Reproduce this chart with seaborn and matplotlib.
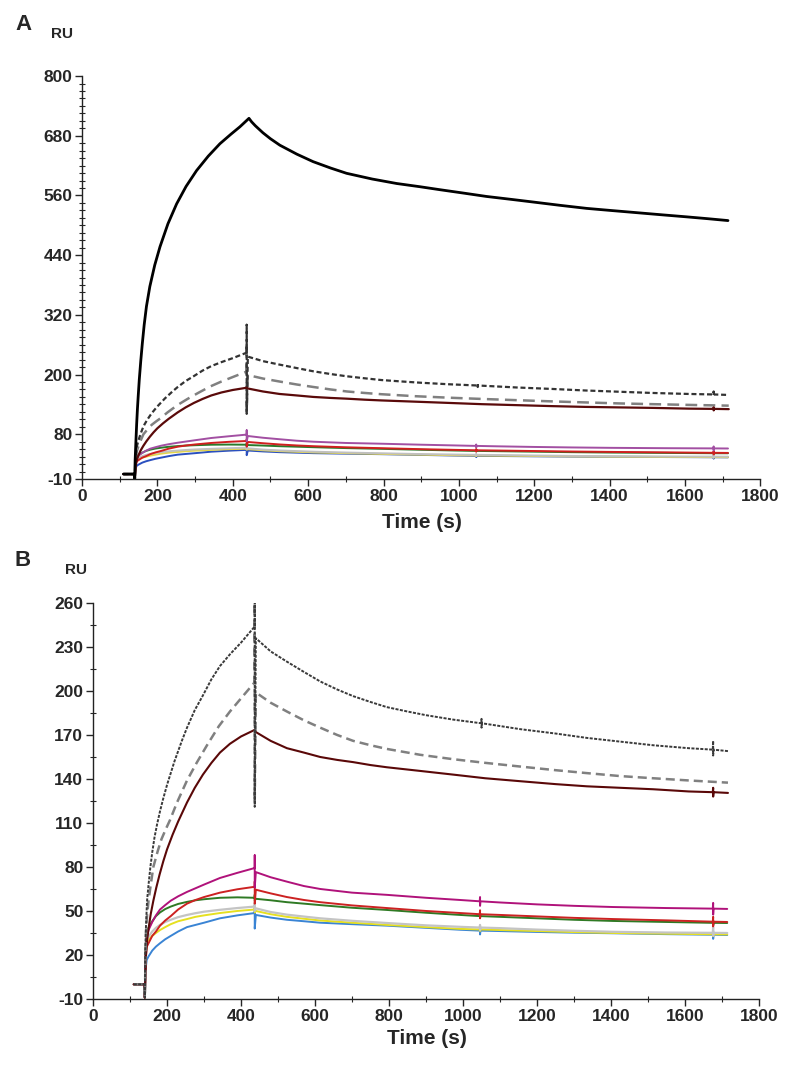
import matplotlib
matplotlib.use("Agg")
import matplotlib.pyplot as plt
from matplotlib.ticker import FixedLocator, MultipleLocator
import seaborn as sns

# sensorgram traces (time in s, response in RU)
t_blk = [110, 139, 140, 141, 143, 145, 147, 149, 152, 156,
         160, 165, 171, 180, 193, 207, 228, 251, 276, 304,
         335, 366, 395, 419, 443, 450, 460, 480, 500, 525,
         570, 613, 660, 702, 770, 835, 897, 950, 1010, 1073,
         1140, 1200, 1270, 1339, 1400, 1470, 1540, 1604, 1660, 1714]
ru_blk = [0, 0, -9, 28, 65, 100, 130, 155, 190, 228,
          262, 300, 337, 377, 420, 457, 503, 543, 578, 610,
          639, 664, 683, 698, 715, 708, 700, 686, 674, 661,
          643, 628, 615, 604.5, 593, 584, 577.5, 571.5, 565, 558,
          552, 546.5, 540, 534, 530, 525.5, 521, 517, 513.3, 509.5]

t_dot = [110, 139, 140, 141, 143, 146, 150, 155, 160, 166,
         173, 181, 189, 200, 220, 240, 254, 275, 297, 320,
         343, 370, 400, 437, 437, 437, 440, 480, 524, 570,
         614, 660, 703, 750, 794, 850, 900, 973, 1049, 1050,
         1050, 1051, 1154, 1250, 1335, 1424, 1514, 1610, 1675, 1676,
         1676, 1677, 1716]
ru_dot = [0, 0, -9, 20, 39, 57, 68, 80, 90, 100,
          109, 118, 126, 136, 152, 166, 175, 187, 197, 208,
          217, 225, 233, 244, 300, 121, 236, 227, 220, 213,
          206.5, 201, 196.5, 192.5, 189, 186, 183.5, 180.5, 178, 181,
          175, 178, 174, 171, 168, 165.5, 163, 161, 160, 166,
          156, 160, 159]

t_dash = [110, 139, 140, 143, 146, 150, 156, 163, 175, 185,
          197, 208, 227, 254, 280, 308, 340, 370, 400, 437,
          437, 437, 440, 480, 524, 570, 614, 660, 703, 750,
          794, 884, 973, 1060, 1154, 1250, 1335, 1424, 1514, 1610,
          1716]
ru_dash = [0, 0, -9, 35, 47, 57, 68, 80, 91, 99,
           106, 112, 124, 139, 151, 163, 176, 186, 195, 206,
           265, 125, 199, 192, 186, 180, 175, 170, 166, 163,
           160.5, 156.5, 153.5, 151, 148.5, 146, 144, 142, 140.5, 139,
           137.5]

t_mar = [110, 139, 140, 143, 146, 150, 156, 163, 171, 180,
         190, 200, 215, 230, 254, 275, 297, 320, 343, 370,
         400, 437, 440, 480, 524, 570, 614, 660, 703, 750,
         794, 884, 973, 1060, 1154, 1250, 1335, 1424, 1514, 1610,
         1675, 1676, 1676, 1677, 1716]
ru_mar = [0, 0, -9, 20, 30, 38, 48, 57, 66, 75,
          84, 92, 102, 111, 124, 134, 143, 151, 158, 164,
          169, 173.5, 172, 166, 161, 158, 155, 153, 151.5, 149.5,
          148, 145.5, 143, 140.5, 138.5, 136.5, 135, 134, 133, 131.5,
          131, 134, 128, 131, 130.5]

# the six weak binders share one time grid
t_small = [110, 139, 140, 142, 145, 150, 160, 170, 181, 195,
           210, 230, 254, 277, 300, 343, 390, 437, 437, 437,
           440, 480, 524, 570, 614, 700, 794, 900, 992, 1045,
           1046, 1046, 1047, 1100, 1200, 1300, 1405, 1550, 1675, 1676,
           1676, 1677, 1714]
ru_mag = [0, 0, -9, 20, 32, 37, 42.5, 47, 51, 54,
          57, 60, 63, 65.5, 68, 72.5, 76, 79.3, 88, 66,
          76.5, 73, 70, 67, 65, 62.5, 61, 59, 57.5, 56.6,
          59.5, 53.5, 56.6, 55.8, 54.5, 53.5, 52.7, 52, 51.6, 55.5,
          47.5, 51.6, 51.4]
ru_red = [0, 0, -9, 15, 25.5, 28, 33, 36, 40, 43.5,
          46.5, 51, 55, 57.5, 59.5, 62.5, 64.8, 66.5, 70, 55,
          64.5, 62, 59.5, 57.5, 56, 53.8, 52, 50, 48.6, 47.8,
          50.5, 45, 47.8, 47.3, 46.3, 45.3, 44.5, 43.6, 42.7, 46,
          39.5, 42.7, 42.5]
ru_grn = [0, 0, -9, 25, 35, 38.5, 43, 46.5, 49, 51.3,
          53, 54.8, 56.2, 57.3, 58, 59, 59.3, 59, 61, 57,
          58.3, 57.3, 56, 55, 54, 52.2, 50.7, 48.8, 47.3, 46.5,
          47.5, 45.5, 46.5, 46, 45, 44, 43.2, 42.5, 41.9, 43.5,
          40.3, 41.9, 41.8]
ru_gry = [0, 0, -9, 22, 30, 32.5, 36, 38.5, 40.5, 42.5,
          44, 45.8, 47.3, 48.5, 49.5, 50.8, 52, 53, 55, 50,
          51.8, 49.3, 47.5, 46.2, 45, 43.3, 41.8, 40.2, 39.2, 38.7,
          40.5, 37, 38.7, 38.3, 37.3, 36.5, 35.8, 35.3, 35.1, 39,
          33, 35.1, 35]
ru_yel = [0, 0, -9, 20, 28, 30.5, 33, 35, 37, 39,
          41, 43, 44.5, 46, 47, 48.6, 50, 51, 53, 49,
          50, 47.8, 46, 44.7, 43.5, 42, 40.5, 39, 37.8, 37.4,
          38.5, 36.3, 37.4, 37, 36.3, 35.6, 35, 34.5, 34.1, 35.5,
          32.8, 34.1, 34]
ru_blu = [0, 0, -9, 10, 16.6, 19, 23, 25.7, 28, 30.7,
          33, 36, 39, 40.5, 42, 45, 47, 48.6, 52, 38,
          47.3, 45.5, 44, 43, 42, 41, 40, 38.5, 37.2, 36.6,
          39, 34, 36.6, 36.3, 35.7, 35.2, 34.8, 34.2, 33.8, 36.5,
          31, 33.8, 33.6]

yticks_a = [-10, 80, 200, 320, 440, 560, 680, 800]
yticks_b = [-10, 20, 50, 80, 110, 140, 170, 200, 230, 260]
xticks = [0, 200, 400, 600, 800, 1000, 1200, 1400, 1600, 1800]

sns.set_style("ticks")
plt.rcParams['font.family'] = ['Liberation Sans', 'DejaVu Sans']
plt.rcParams['lines.scale_dashes'] = False
plt.rcParams['axes.unicode_minus'] = False

fig = plt.figure(figsize=(8, 10.65), dpi=100)
ax_a = fig.add_axes([0.1025, 0.5502, 0.848, 0.3784])
ax_b = fig.add_axes([0.1163, 0.0620, 0.8325, 0.3718])


def trace(ax, t, ru, color, lw=1.4, ls='-'):
    sns.lineplot(x=t, y=ru, ax=ax, color=color, lw=lw, linestyle=ls,
                 estimator=None, sort=False)


# panel A
trace(ax_a, t_small, ru_blu, '#2a4fbf')
trace(ax_a, t_small, ru_yel, '#e3d54a')
trace(ax_a, t_small, ru_gry, '#c0c0c0')
trace(ax_a, t_small, ru_grn, '#2a7a2a')
trace(ax_a, t_small, ru_red, '#d01f1f')
trace(ax_a, t_small, ru_mag, '#a24fa2')
trace(ax_a, t_dash, ru_dash, '#808080', lw=1.8, ls=(0, (8.5, 4.5)))
trace(ax_a, t_dot, ru_dot, '#333333', lw=1.6, ls=(0, (3.6, 2.0)))
trace(ax_a, t_mar, ru_mar, '#5a0a0a', lw=1.6)
trace(ax_a, t_blk, ru_blk, '#000000', lw=2.0)

# panel B
trace(ax_b, t_small, ru_blu, '#3a84d4')
trace(ax_b, t_small, ru_yel, '#e6e020')
trace(ax_b, t_small, ru_gry, '#c4c4c4', lw=1.6)
trace(ax_b, t_small, ru_grn, '#2f7a24')
trace(ax_b, t_small, ru_red, '#cc2222')
trace(ax_b, t_small, ru_mag, '#b0127a')
trace(ax_b, t_mar, ru_mar, '#5a0808', lw=1.5)
trace(ax_b, t_dash, ru_dash, '#808080', lw=1.8, ls=(0, (6.5, 3.6)))
trace(ax_b, t_dot, ru_dot, '#3a3a3a', lw=1.4, ls=(0, (2.2, 1.0)))

for ax, yt, ymax in [(ax_a, yticks_a, 800), (ax_b, yticks_b, 260)]:
    ax.set_xlim(0, 1800)
    ax.set_ylim(-10, ymax)
    ax.set_xticks(xticks)
    ax.set_yticks(yt)
    ax.xaxis.set_minor_locator(MultipleLocator(100))
    ax.yaxis.set_minor_locator(FixedLocator(list(range(-10, ymax + 1, 15))))
    ax.tick_params(which='major', direction='out', length=5, width=1, labelsize=12.5, pad=2)
    ax.tick_params(which='minor', direction='inout', length=5, width=0.8)
    for lab in ax.get_xticklabels() + ax.get_yticklabels():
        lab.set_fontweight('bold')
    sns.despine(ax=ax)
    for s in ['left', 'bottom']:
        ax.spines[s].set_linewidth(1.0)
        ax.spines[s].set_color('#222222')
    ax.set_xlabel('')
    ax.set_ylabel('')

fig.text(422 / 800, 1 - 522 / 1065, 'Time (s)', ha='center', va='center', fontsize=15, fontweight='bold')
fig.text(427 / 800, 1 - 1038 / 1065, 'Time (s)', ha='center', va='center', fontsize=15, fontweight='bold')
fig.text(15 / 800, 1 - 24 / 1065, 'A', ha='left', va='center', fontsize=16, fontweight='bold')
fig.text(15 / 800, 1 - 561 / 1065, 'B', ha='left', va='center', fontsize=16, fontweight='bold')
fig.text(51 / 800, 1 - 34 / 1065, 'RU', ha='left', va='center', fontsize=11, fontweight='bold')
fig.text(65 / 800, 1 - 570 / 1065, 'RU', ha='left', va='center', fontsize=11, fontweight='bold')

fig.savefig('out.png', dpi=100)
